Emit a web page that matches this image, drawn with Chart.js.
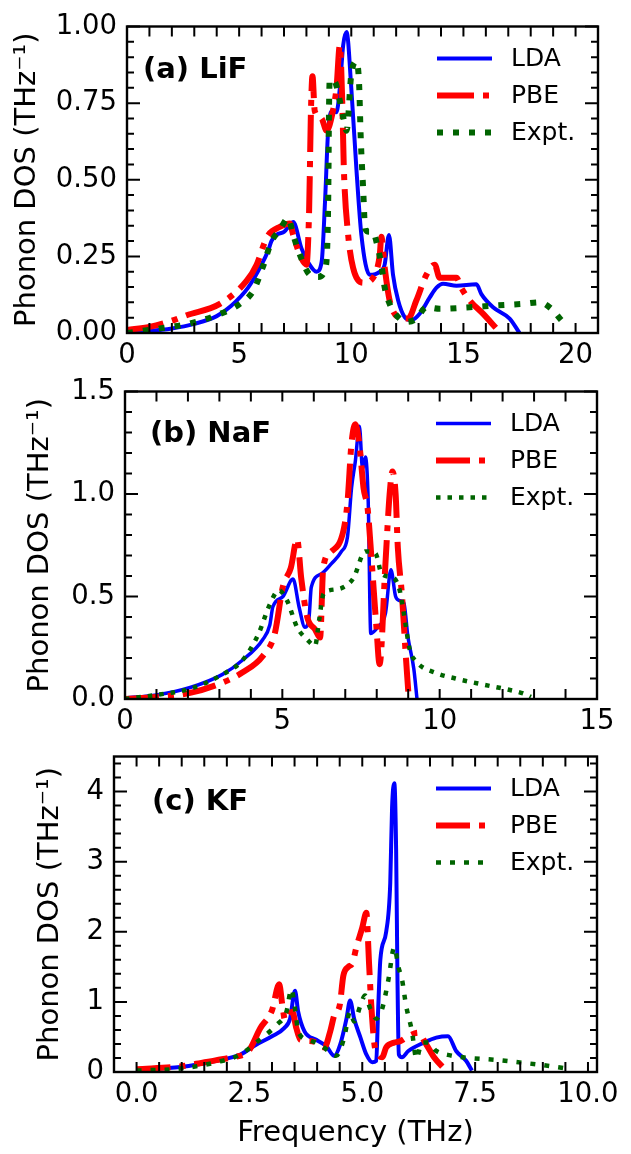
<!DOCTYPE html>
<html>
<head>
<meta charset="utf-8">
<script src="https://cdn.jsdelivr.net/npm/chart.js@4.4.1/dist/chart.umd.min.js"></script>
<style>
  html, body { margin: 0; padding: 0; background: #fff; }
  #fig { position: relative; width: 631px; height: 1154px; overflow: hidden; background: #fff; }
  #fig canvas { position: absolute; left: 0; }
</style>
</head>
<body>
<div id="fig">
  <canvas id="lif" width="631" height="365" style="top:0px"></canvas>
  <canvas id="naf" width="631" height="365" style="top:365px"></canvas>
  <canvas id="kf" width="631" height="424" style="top:730px"></canvas>
</div>
<script>
// ---------- Phonon density of states (THz^-1) versus frequency (THz) ----------

// (a) LiF
const LIF_LDA_F   = [0, 1, 2, 3, 4, 4.65, 5.4, 6.0, 6.3, 6.44, 6.66, 7.0, 7.41, 7.78, 8.08, 8.45, 8.68, 8.83, 8.98, 9.19, 9.34, 9.49, 9.64, 9.79, 10.0, 10.23, 10.45, 10.82, 11.27, 11.49, 11.68, 11.86, 12.09, 12.38, 12.68, 13.05, 13.5, 13.8, 14.09, 14.69, 15.58, 15.8, 16.32, 17.06, 17.5];
const LIF_LDA_DOS = [0.003, 0.007, 0.015, 0.03, 0.055, 0.089, 0.148, 0.223, 0.27, 0.30, 0.32, 0.33, 0.362, 0.276, 0.23, 0.2, 0.233, 0.43, 0.672, 0.726, 0.72, 0.80, 0.94, 0.982, 0.80, 0.533, 0.32, 0.19, 0.2, 0.224, 0.32, 0.19, 0.106, 0.052, 0.042, 0.063, 0.116, 0.148, 0.161, 0.154, 0.159, 0.127, 0.084, 0.047, 0.0];
const LIF_PBE_F   = [0, 1, 2, 2.66, 4.14, 5.33, 5.78, 6.15, 6.3, 6.81, 7.26, 7.41, 7.71, 8.0, 8.12, 8.2, 8.27, 8.37, 8.67, 8.9, 9.12, 9.34, 9.49, 9.6, 9.67, 9.86, 10.08, 10.53, 10.97, 11.27, 11.34, 11.49, 11.71, 12.09, 12.53, 12.9, 13.35, 13.72, 13.94, 14.69, 14.9, 15.28, 15.87, 16.47];
const LIF_PBE_DOS = [0.01, 0.02, 0.04, 0.058, 0.095, 0.17, 0.223, 0.298, 0.32, 0.346, 0.357, 0.32, 0.255, 0.223, 0.40, 0.72, 0.838, 0.725, 0.70, 0.66, 0.704, 0.80, 0.939, 0.747, 0.533, 0.32, 0.213, 0.164, 0.18, 0.255, 0.314, 0.213, 0.106, 0.052, 0.047, 0.106, 0.19, 0.223, 0.18, 0.18, 0.148, 0.106, 0.063, 0.015];
const LIF_EXP_F   = [0, 1.47, 2.8, 4.0, 5.03, 5.63, 6.07, 6.44, 6.81, 7.19, 7.41, 7.71, 8.15, 8.52, 8.85, 8.97, 9.01, 9.04, 9.27, 9.49, 9.64, 9.79, 10.0, 10.23, 10.35, 10.42, 10.53, 10.62, 10.8, 10.97, 11.12, 11.34, 11.49, 11.71, 12.01, 12.46, 12.9, 13.35, 13.94, 15.28, 16.47, 17.65, 18.4, 18.92, 19.36];
const LIF_EXP_DOS = [0.0, 0.015, 0.031, 0.058, 0.095, 0.138, 0.218, 0.298, 0.336, 0.375, 0.32, 0.255, 0.19, 0.183, 0.213, 0.426, 0.747, 0.827, 0.82, 0.757, 0.704, 0.66, 0.843, 0.886, 0.81, 0.64, 0.469, 0.34, 0.33, 0.33, 0.298, 0.223, 0.148, 0.095, 0.058, 0.036, 0.047, 0.084, 0.079, 0.084, 0.09, 0.095, 0.10, 0.079, 0.042];
const LIF_X_TICKS = [0, 5, 10, 15, 20];
const LIF_Y_TICKS = [0, 0.25, 0.5, 0.75, 1.0];

// (b) NaF
const NAF_LDA_F   = [0, 1, 2.07, 3.1, 3.74, 4.38, 4.6, 4.7, 5.02, 5.34, 5.53, 5.72, 5.85, 5.92, 6.24, 6.56, 6.88, 7.07, 7.2, 7.32, 7.45, 7.55, 7.64, 7.73, 7.81, 8.03, 8.28, 8.45, 8.6, 8.73, 8.86, 8.99, 9.18, 9.28];
const NAF_LDA_DOS = [0.005, 0.02, 0.056, 0.12, 0.19, 0.29, 0.36, 0.45, 0.5, 0.585, 0.45, 0.35, 0.40, 0.545, 0.61, 0.66, 0.72, 0.79, 1.03, 1.16, 1.33, 1.12, 1.18, 0.96, 0.32, 0.35, 0.42, 0.63, 0.50, 0.48, 0.47, 0.305, 0.145, 0.0];
const NAF_PBE_F   = [0, 1, 2.07, 3.1, 3.74, 4.38, 4.76, 5.02, 5.27, 5.47, 5.6, 5.79, 6.04, 6.2, 6.3, 6.56, 6.94, 7.07, 7.2, 7.32, 7.45, 7.58, 7.71, 7.84, 7.99, 8.09, 8.28, 8.41, 8.5, 8.6, 8.67, 8.8, 8.92, 9.01];
const NAF_PBE_DOS = [0.0, 0.01, 0.03, 0.08, 0.13, 0.21, 0.32, 0.55, 0.64, 0.78, 0.59, 0.40, 0.34, 0.30, 0.64, 0.72, 0.82, 0.96, 1.25, 1.34, 1.24, 1.03, 0.93, 0.67, 0.35, 0.17, 0.67, 1.0, 1.11, 1.0, 0.74, 0.51, 0.22, 0.02];
const NAF_EXP_F   = [0, 1, 2.07, 3.1, 3.74, 4.25, 4.57, 4.89, 5.15, 5.47, 5.79, 6.04, 6.17, 6.3, 6.49, 6.94, 7.26, 7.64, 7.96, 8.16, 8.54, 8.73, 8.86, 9.05, 9.24, 9.9, 10.5, 11.4, 12.2, 12.66, 12.9];
const NAF_EXP_DOS = [0.0, 0.02, 0.05, 0.12, 0.19, 0.32, 0.45, 0.53, 0.48, 0.35, 0.29, 0.26, 0.385, 0.51, 0.53, 0.545, 0.59, 0.72, 0.71, 0.61, 0.59, 0.53, 0.42, 0.24, 0.185, 0.126, 0.1, 0.07, 0.045, 0.027, 0.01];
const NAF_X_TICKS = [0, 5, 10, 15];
const NAF_Y_TICKS = [0, 0.5, 1.0, 1.5];

// (c) KF
const KF_LDA_F    = [0, 0.97, 1.77, 2.3, 2.65, 3.0, 3.27, 3.4, 3.51, 3.58, 3.72, 3.98, 4.2, 4.38, 4.51, 4.65, 4.73, 4.82, 4.96, 5.09, 5.22, 5.31, 5.35, 5.4, 5.53, 5.62, 5.66, 5.71, 5.75, 5.78, 5.81, 5.88, 6.02, 6.37, 6.64, 6.9, 7.08, 7.3, 7.43];
const KF_LDA_DOS  = [0.03, 0.07, 0.16, 0.25, 0.39, 0.51, 0.625, 0.76, 1.16, 0.86, 0.58, 0.46, 0.37, 0.23, 0.39, 0.76, 1.02, 0.76, 0.49, 0.25, 0.14, 0.16, 0.86, 1.6, 2.0, 2.7, 3.77, 4.12, 3.17, 1.32, 0.25, 0.21, 0.3, 0.42, 0.49, 0.51, 0.3, 0.16, 0.02];
const KF_PBE_F    = [0, 0.97, 1.77, 2.12, 2.48, 2.74, 3.0, 3.16, 3.23, 3.29, 3.45, 3.54, 3.63, 3.89, 4.16, 4.29, 4.38, 4.5, 4.58, 4.69, 4.78, 4.87, 5.0, 5.09, 5.15, 5.2, 5.27, 5.35, 5.44, 5.53, 5.71, 5.84, 6.02, 6.24, 6.42, 6.59, 6.81];
const KF_PBE_DOS  = [0.04, 0.08, 0.17, 0.21, 0.3, 0.625, 0.88, 1.25, 0.95, 0.74, 0.86, 0.625, 0.46, 0.44, 0.35, 0.58, 0.81, 0.95, 1.37, 1.5, 1.55, 1.78, 2.06, 2.27, 1.55, 0.95, 0.39, 0.25, 0.21, 0.35, 0.42, 0.44, 0.51, 0.56, 0.39, 0.21, 0.05];
const KF_EXP_F    = [0, 0.97, 1.77, 2.3, 2.65, 3.1, 3.32, 3.43, 3.52, 3.58, 3.8, 4.07, 4.25, 4.42, 4.6, 4.73, 4.82, 4.96, 5.06, 5.18, 5.31, 5.44, 5.58, 5.71, 5.8, 5.88, 5.97, 6.1, 6.2, 6.32, 6.46, 6.64, 6.95, 8.05, 9.01, 9.53];
const KF_EXP_DOS  = [0.02, 0.05, 0.14, 0.25, 0.42, 0.67, 0.86, 1.18, 0.86, 0.58, 0.46, 0.39, 0.3, 0.23, 0.49, 0.86, 0.72, 0.95, 1.09, 0.9, 0.76, 0.9, 1.32, 1.78, 1.5, 1.32, 0.95, 0.58, 0.19, 0.42, 0.42, 0.3, 0.237, 0.167, 0.097, 0.05];
const KF_X_TICKS  = [0, 2.5, 5, 7.5, 10];
const KF_Y_TICKS  = [0, 1, 2, 3, 4];

const SERIES_NAMES = ['LDA', 'PBE', 'Expt.'];

// ---------- drawing ----------
const FONT = "'DejaVu Sans', sans-serif";
const BLUE = '#0000ff', RED = '#ff0000', GREEN = '#006400';

// Frame, inward ticks on all four sides, panel label and in-axes legend
const panelDecor = {
  id: 'panelDecor',
  afterDatasetsDraw(chart, args, o) {
    const { ctx, chartArea: a, scales: { x, y } } = chart;
    ctx.save();
    ctx.setLineDash([]);
    ctx.strokeStyle = '#000';
    ctx.lineCap = 'butt';

    // ticks
    ctx.lineWidth = 2;
    ctx.beginPath();
    const kx0 = Math.ceil(x.min / o.xMinor - 1e-9);
    for (let k = kx0; k * o.xMinor <= x.max + 1e-9; k++) {
      const px = x.getPixelForValue(k * o.xMinor);
      ctx.moveTo(px, a.bottom); ctx.lineTo(px, a.bottom - o.xLen);
      ctx.moveTo(px, a.top);    ctx.lineTo(px, a.top + o.xLen);
    }
    const ky0 = Math.ceil(y.min / o.yMinor - 1e-9);
    for (let k = ky0; k * o.yMinor <= y.max + 1e-9; k++) {
      const v = k * o.yMinor;
      const py = y.getPixelForValue(v);
      const major = o.yMajor.some(m => Math.abs(m - v) < 1e-6);
      const len = major ? o.yLenMajor : o.yLenMinor;
      ctx.moveTo(a.left, py);  ctx.lineTo(a.left + len, py);
      ctx.moveTo(a.right, py); ctx.lineTo(a.right - len, py);
    }
    ctx.stroke();

    // frame
    ctx.lineWidth = 2.4;
    ctx.strokeRect(a.left, a.top, a.right - a.left, a.bottom - a.top);

    // panel label
    ctx.fillStyle = '#000';
    ctx.font = "bold 29px " + FONT;
    ctx.textAlign = 'left';
    ctx.textBaseline = 'alphabetic';
    ctx.fillText(o.label, a.left + o.labelDx, a.top + o.labelDy);

    // legend
    ctx.font = "25px " + FONT;
    ctx.textBaseline = 'middle';
    chart.data.datasets.forEach((ds, i) => {
      const ly = a.top + 32 + i * 37;
      ctx.beginPath();
      ctx.strokeStyle = ds.borderColor;
      ctx.lineWidth = ds.borderWidth;
      ctx.setLineDash(ds.borderDash || []);
      ctx.moveTo(a.right - 161, ly);
      ctx.lineTo(a.right - 106, ly);
      ctx.stroke();
      ctx.setLineDash([]);
      ctx.fillStyle = '#000';
      ctx.fillText(ds.label, a.right - 87, ly + 1);
    });
    ctx.restore();
  }
};

function makePanel(p) {
  const datasets = p.series.map((s, i) => ({
    label: SERIES_NAMES[i],
    data: s.f.map((f, k) => ({ x: f, y: s.dos[k] })),
    borderColor: s.color,
    borderWidth: s.width,
    borderDash: s.dash || [],
    borderCapStyle: 'butt',
    borderJoinStyle: 'round',
    pointRadius: 0,
    fill: false,
    cubicInterpolationMode: 'monotone',
    order: p.series.length - i
  }));

  return new Chart(document.getElementById(p.id), {
    type: 'line',
    data: { datasets },
    options: {
      responsive: false,
      animation: false,
      devicePixelRatio: 1,
      events: [],
      layout: { padding: { top: p.box.top, right: p.box.right, left: 0, bottom: 0 } },
      scales: {
        x: {
          type: 'linear', min: p.xMin, max: p.xMax,
          grid: { display: false, drawTicks: false },
          border: { display: false },
          afterBuildTicks: sc => { sc.ticks = p.xTicks.map(v => ({ value: v })); },
          afterFit: sc => { sc.height = p.box.xHeight; },
          ticks: {
            color: '#000', font: { family: FONT, size: 27.5 }, padding: p.box.xTickPad,
            maxRotation: 0, autoSkip: false,
            callback: v => Number(v).toFixed(p.xDec)
          },
          title: p.xTitle ? {
            display: true, text: p.xTitle, color: '#000',
            font: { family: FONT, size: 29 }, padding: { top: 0, bottom: 3 }
          } : { display: false }
        },
        y: {
          type: 'linear', min: p.yMin, max: p.yMax,
          grid: { display: false, drawTicks: false },
          border: { display: false },
          afterBuildTicks: sc => { sc.ticks = p.yTicks.map(v => ({ value: v })); },
          afterFit: sc => { sc.width = p.box.yWidth; },
          ticks: {
            color: '#000', font: { family: FONT, size: 27.5 }, padding: 10,
            autoSkip: false,
            callback: v => Number(v).toFixed(p.yDec)
          },
          title: {
            display: true, text: 'Phonon DOS (THz⁻¹)', color: '#000',
            font: { family: FONT, size: 29 }, padding: { top: p.box.yTitlePad, bottom: 0 }
          }
        }
      },
      plugins: {
        legend: { display: false },
        tooltip: { enabled: false },
        panelDecor: {
          label: p.label, labelDx: p.labelDx, labelDy: p.labelDy,
          xMinor: p.xMinor, yMinor: p.yMinor, yMajor: p.yTicks,
          xLen: 10, yLenMajor: 13, yLenMinor: 7
        }
      }
    },
    plugins: [panelDecor]
  });
}

makePanel({
  id: 'lif', label: '(a) LiF', labelDx: 16, labelDy: 51,
  xMin: 0, xMax: 21, yMin: 0, yMax: 1.0,
  xTicks: LIF_X_TICKS, yTicks: LIF_Y_TICKS, xDec: 0, yDec: 2, xMinor: 1, yMinor: 0.05,
  box: { top: 21, right: 33, yWidth: 127, xHeight: 32, xTickPad: 6, yTitlePad: 10 },
  series: [
    { f: LIF_LDA_F, dos: LIF_LDA_DOS, color: BLUE, width: 4 },
    { f: LIF_PBE_F, dos: LIF_PBE_DOS, color: RED, width: 6, dash: [37, 9, 6, 9] },
    { f: LIF_EXP_F, dos: LIF_EXP_DOS, color: GREEN, width: 6, dash: [6, 10] }
  ]
});

makePanel({
  id: 'naf', label: '(b) NaF', labelDx: 25, labelDy: 50,
  xMin: 0, xMax: 15, yMin: 0, yMax: 1.5,
  xTicks: NAF_X_TICKS, yTicks: NAF_Y_TICKS, xDec: 0, yDec: 1, xMinor: 1, yMinor: 0.1,
  box: { top: 22, right: 34, yWidth: 125, xHeight: 31, xTickPad: 6, yTitlePad: 23 },
  series: [
    { f: NAF_LDA_F, dos: NAF_LDA_DOS, color: BLUE, width: 3.5 },
    { f: NAF_PBE_F, dos: NAF_PBE_DOS, color: RED, width: 6, dash: [34, 9, 6, 9] },
    { f: NAF_EXP_F, dos: NAF_EXP_DOS, color: GREEN, width: 4.5, dash: [4.5, 7] }
  ]
});

makePanel({
  id: 'kf', label: '(c) KF', labelDx: 38, labelDy: 53,
  xMin: -0.5, xMax: 10.2, yMin: 0, yMax: 4.5,
  xTicks: KF_X_TICKS, yTicks: KF_Y_TICKS, xDec: 1, yDec: 0, xMinor: 0.5, yMinor: 0.2,
  xTitle: 'Frequency (THz)',
  box: { top: 17, right: 34, yWidth: 114, xHeight: 82, xTickPad: 6, yTitlePad: 33 },
  series: [
    { f: KF_LDA_F, dos: KF_LDA_DOS, color: BLUE, width: 4 },
    { f: KF_PBE_F, dos: KF_PBE_DOS, color: RED, width: 6, dash: [34, 9, 6, 9] },
    { f: KF_EXP_F, dos: KF_EXP_DOS, color: GREEN, width: 4.5, dash: [5, 9] }
  ]
});
</script>
</body>
</html>
